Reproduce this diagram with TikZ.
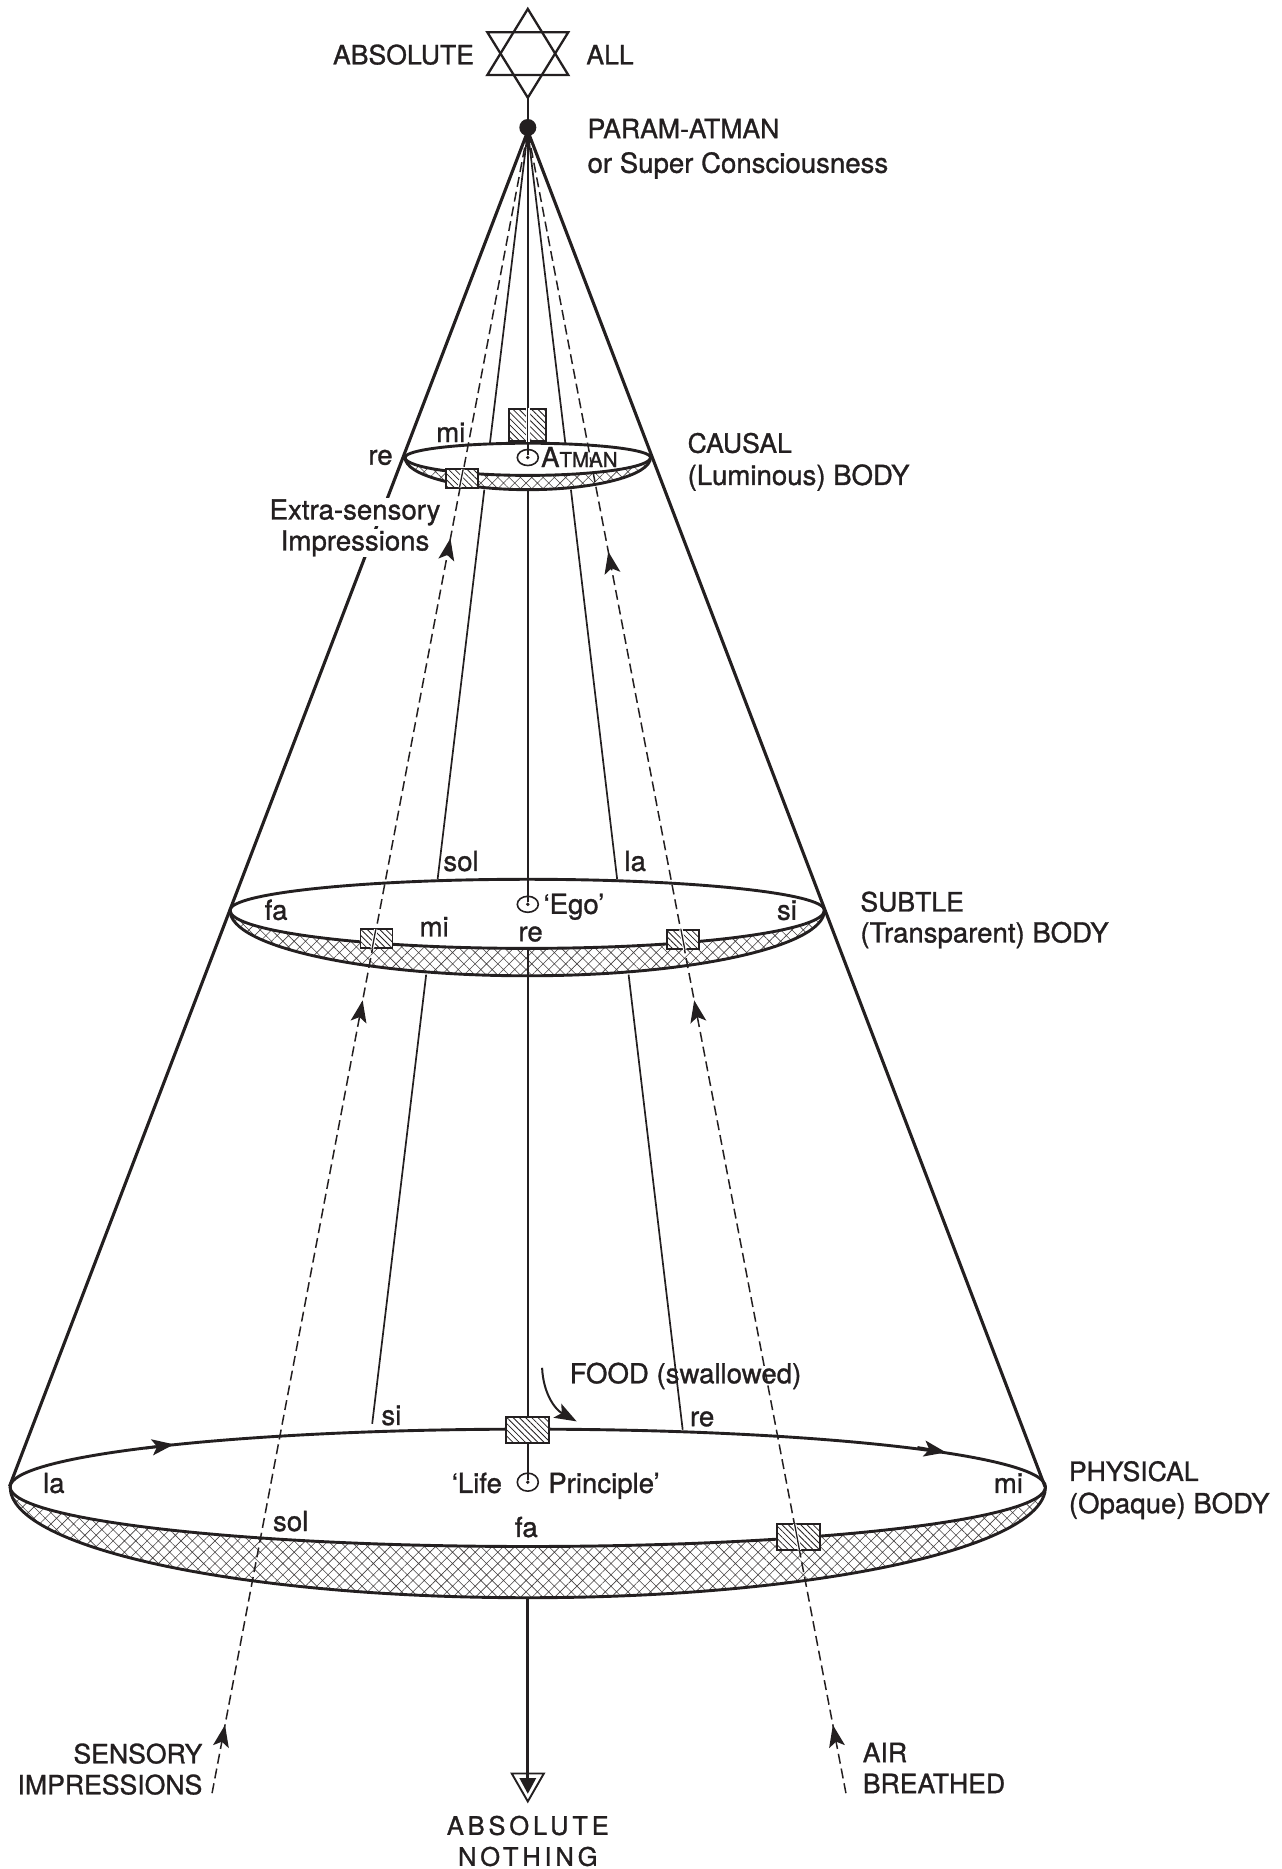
\documentclass[tikz,border=0pt]{standalone}
\usepackage{fontspec}
\setmainfont[FakeBold=1.1]{TeX Gyre Heros}
\usetikzlibrary{arrows.meta,patterns.meta,decorations.markings,shapes.geometric}
\definecolor{ink}{HTML}{231F20}
\newcommand{\HE}[4]{({#1-#3},#2) .. controls ({#1-#3},{#2+.5523*#4}) and ({#1-.5523*#3},{#2+#4}) .. (#1,{#2+#4}) .. controls ({#1+.5523*#3},{#2+#4}) and ({#1+#3},{#2+.5523*#4}) .. ({#1+#3},#2)}
\tikzset{
  lbl/.style={inner sep=0pt,text=ink,font=\fontsize{27.6}{30}\selectfont,anchor=base west},
  caps/.style={lbl,font=\fontsize{26.6}{30}\selectfont},
  capsr/.style={caps,anchor=base east},
  lblc/.style={lbl,anchor=base},
  halo/.style={fill=white,inner xsep=1pt,inner ysep=1pt},
  cone/.style={draw=ink,line width=3.1pt},
  rim/.style={draw=ink,line width=2.9pt},
  thread/.style={draw=ink,line width=1.7pt},
  band/.style={pattern={Hatch[angle=45,distance=8pt,line width=.6pt]},pattern color=ink!85},
  hatchbox/.style={draw=ink,line width=1.8pt,fill=white,postaction={pattern={Lines[angle=-45,distance=4.4pt,line width=.8pt]},pattern color=ink}},
  dashline/.style={draw=ink,line width=1.5pt,dash pattern=on 10pt off 5pt},
  tip/.style={-{Stealth[length=22pt,width=16pt,inset=5pt]}},
  insidebox/.style={draw=ink,line width=1.3pt,preaction={draw=white,line width=3.6pt}},
  eye/.style={draw=ink,line width=1.6pt,ellipse,minimum width=21pt,minimum height=16pt,inner sep=0pt},
  pupil/.style={circle,fill=ink,minimum size=3.8pt,inner sep=0pt},
  spaced/.style={font=\fontsize{25.5}{30}\selectfont\addfontfeatures{LetterSpace=15}},
}
\begin{document}
\begin{tikzpicture}[x=1.1914pt,y=-1.1914pt]
\useasboundingbox (0,0) rectangle (1076,1568.7);

% named points
\node[circle,fill=ink,minimum size=17pt,inner sep=0pt] (dot) at (443,107) {};
\coordinate (apex) at (443,110);
\coordinate (starB) at (443,82);
\coordinate (pL) at (8,1247.5);
\coordinate (pR) at (877,1247.5);

% bands
\path[band] \HE{443}{1248}{434.5}{50} .. controls (877.5,1248+.5523*93) and (443+.5523*434.5,1341) .. (443,1341) .. controls (443-.5523*434.5,1341) and (8.5,1248+.5523*93) .. (8.5,1248) -- cycle;
\path[band] \HE{442.5}{764}{249.5}{32} .. controls (692,764+.5523*55) and (442.5+.5523*249.5,819) .. (442.5,819) .. controls (442.5-.5523*249.5,819) and (193,764+.5523*55) .. (193,764) -- cycle;
\path[band] \HE{443}{384}{103}{15} .. controls (546,384+.5523*27) and (443+.5523*103,411) .. (443,411) .. controls (443-.5523*103,411) and (340,384+.5523*27) .. (340,384) -- cycle;

% rims
\foreach \cx/\cy/\rx/\ra/\rb/\rc in {443/1248/434.5/-48.5/50/93, 442.5/764/249.5/-26/32/55, 443/384/103/-12/15/27}{
  \draw[rim,line cap=round] \HE{\cx}{\cy}{\rx}{\ra};
  \draw[rim,line cap=round] \HE{\cx}{\cy}{\rx}{\rb};
  \draw[rim,line cap=round] \HE{\cx}{\cy}{\rx}{\rc};
}
% rim arrows
\coordinate (ra1) at (122,1215.5);
\coordinate (ra2) at (146,1212.3);
\coordinate (rb1) at (770,1214.8);
\coordinate (rb2) at (794,1219);
\draw[draw=ink,line width=2.6pt,tip] (ra1) -- (ra2);
\draw[draw=ink,line width=2.6pt,tip] (rb1) -- (rb2);

% cone
\draw[cone] (apex) -- (pL);
\draw[cone] (apex) -- (pR);

% boxes crossed by threads
\node[hatchbox,minimum width=37pt,minimum height=32pt,inner sep=0pt] (boxC) at (443,357) {};
\node[hatchbox,minimum width=32pt,minimum height=19pt,inner sep=0pt] (boxCl) at (387.5,401.5) {};
\node[hatchbox,minimum width=32pt,minimum height=19pt,inner sep=0pt] (boxSl) at (316,788) {};
\node[hatchbox,minimum width=32pt,minimum height=19pt,inner sep=0pt] (boxSr) at (573,788.5) {};
\node[hatchbox,minimum width=43pt,minimum height=26pt,inner sep=0pt] (boxPr) at (670,1290) {};

% eyes
\node[eye] (atm) at (443,384) {}; \node[pupil] (atmd) at (443,384) {};
\node[eye] (ego) at (443,759) {}; \node[pupil] (egod) at (443,759) {};
\node[eye,minimum width=21pt,minimum height=18pt] (lif) at (443,1244) {}; \node[pupil] (lifd) at (443,1244) {};

% central line
\draw[thread,line width=1.9pt] (starB) -- (dot);
\draw[thread] (dot) -- (boxC.north);
\draw[insidebox] (boxC.north) -- (boxC.south);
\draw[thread] (boxC.south) -- (atmd);
\coordinate (cB) at (443,411);
\coordinate (sBi) at (443,797);
\coordinate (pB) at (443,1341);
\coordinate (foodin) at (443,1189);
\draw[thread] (cB) -- (egod);
\draw[thread] (sBi) -- (foodin);
\node[hatchbox,minimum width=43pt,minimum height=26pt,inner sep=0pt] (boxP) at (443,1200) {};
\draw[thread] (boxP.south) -- (lifd);

% side threads
\coordinate (l1) at (411.2,372); \coordinate (l2) at (406.5,411);
\coordinate (l3) at (367.3,738); \coordinate (l4) at (357.7,818);
\coordinate (l5) at (312.4,1195);
\coordinate (r1) at (474.5,372); \coordinate (r2) at (479.2,411);
\coordinate (r3) at (518,738); \coordinate (r4) at (527.6,818);
\coordinate (r5) at (573,1200);
\draw[thread] (apex) -- (l1);
\draw[thread] (l2) -- (l3);
\draw[thread] (l4) -- (l5);
\draw[thread] (apex) -- (r1);
\draw[thread] (r2) -- (r3);
\draw[thread] (r4) -- (r5);

% dashed impressions and air
\coordinate (dl) at (178,1505);
\coordinate (dr) at (710,1505);
\draw[dashline,postaction={decorate,decoration={markings,
   mark=at position .041 with {\arrow[ink,solid]{Stealth[length=22pt,width=16pt,inset=5pt]}},
   mark=at position .477 with {\arrow[ink,solid]{Stealth[length=22pt,width=16pt,inset=5pt]}},
   mark=at position .755 with {\arrow[ink,solid]{Stealth[length=22pt,width=16pt,inset=5pt]}}}}] (dl) -- (apex);
\draw[dashline,postaction={decorate,decoration={markings,
   mark=at position .041 with {\arrow[ink,solid]{Stealth[length=22pt,width=16pt,inset=5pt]}},
   mark=at position .477 with {\arrow[ink,solid]{Stealth[length=22pt,width=16pt,inset=5pt]}},
   mark=at position .747 with {\arrow[ink,solid]{Stealth[length=22pt,width=16pt,inset=5pt]}}}}] (dr) -- (apex);
\draw[insidebox] (388.7,394) -- (385.7,409);
\draw[insidebox] (315.4,780) -- (312.4,796);
\draw[insidebox] (571.5,780) -- (574.8,797);
\draw[insidebox] (666.9,1279) -- (671,1301);

% star
\draw[draw=ink,line width=2.3pt,line join=miter] (443,7.5) -- (477,63) -- (409,63) -- cycle;
\draw[draw=ink,line width=2.3pt,line join=miter] (443,82) -- (477,27) -- (409,27) -- cycle;

% food arrow
\coordinate (fa) at (455,1148);
\coordinate (fb) at (484,1193);
\draw[draw=ink,line width=2pt,tip] (fa) .. controls (456,1170) and (466,1183) .. (fb);

% absolute nothing arrow
\draw[draw=ink,line width=3pt] (pB) -- (443,1492);
\draw[draw=ink,line width=1.9pt,fill=white,line join=miter] (429.5,1488.5) -- (456.5,1488.5) -- (443,1512) -- cycle;
\fill[ink] (436,1492.5) -- (450,1492.5) -- (443,1505.5) -- cycle;
\draw[draw=ink,line width=3pt] (443,1480) -- (443,1494);

% labels
\node[capsr] (t1) at (398,54) {ABSOLUTE};
\node[caps] (t2) at (492,54) {ALL};
\node[caps] (t3) at (493,116) {PARAM-ATMAN};
\node[lbl] (t4) at (493,145) {or Super Consciousness};
\node[caps] (t5) at (577,380) {CAUSAL};
\node[lbl] (t6) at (577,407) {(Luminous) BODY};
\node[lbl] (t7) at (309,390) {re};
\node[lbl] (t8) at (366,371) {mi};
\node[lblc,halo] (t9) at (298,436) {Extra-sensory};
\node[lblc,halo] (t10) at (298,462) {Impressions};
\node[lbl] (t11) at (454,392) {A{\fontsize{20.5}{22}\selectfont TMAN}};
\node[lbl] (t12) at (372,731) {sol};
\node[lbl] (t13) at (524,731) {la};
\node[lbl] (t14) at (222,772) {fa};
\node[lbl] (t15) at (456,767) {‘Ego’};
\node[lbl] (t16) at (652,772) {si};
\node[lbl] (t17) at (352,786) {mi};
\node[lbl] (t18) at (435,790) {re};
\node[caps] (t19) at (722,765) {SUBTLE};
\node[lbl] (t20) at (722,791) {(Transparent) BODY};
\node[lbl] (t21) at (478,1161) {FOOD (swallowed)};
\node[lbl] (t22) at (320,1196) {si};
\node[lbl] (t23) at (579,1197) {re};
\node[lbl] (t24) at (36,1253) {la};
\node[lbl] (t25) at (834,1253) {mi};
\node[lbl] (t26) at (379,1253) {‘Life};
\node[lbl] (t27) at (460,1253) {Principle’};
\node[lbl] (t28) at (229,1285) {sol};
\node[lbl] (t29) at (432,1290) {fa};
\node[caps] (t30) at (897,1243) {PHYSICAL};
\node[lbl] (t31) at (897,1270) {(Opaque) BODY};
\node[capsr] (t32) at (170,1480) {SENSORY};
\node[capsr] (t33) at (170,1506) {IMPRESSIONS};
\node[caps] (t34) at (724,1479) {AIR};
\node[caps] (t35) at (724,1505) {BREATHED};
\node[lblc,spaced] (t36) at (443,1540) {ABSOLUTE};
\node[lblc,spaced] (t37) at (443,1566) {NOTHING};
\end{tikzpicture}
\end{document}
